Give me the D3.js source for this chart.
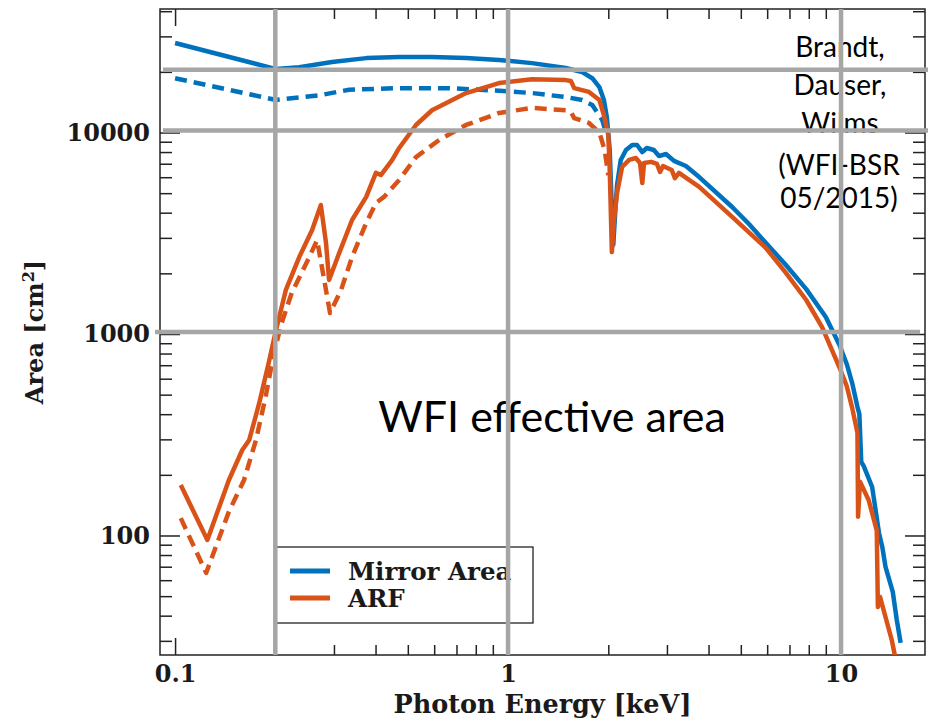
<!DOCTYPE html>
<html>
<head>
<meta charset="utf-8">
<script src="https://cdn.jsdelivr.net/npm/d3@7/dist/d3.min.js"></script>
<style>
  body { margin: 0; background: #fff; }
  svg { display: block; }
</style>
</head>
<body>
<div id="chart"></div>
<script>
// Mirror area (solid) - energy in keV, area in cm^2
const mirrorEnergy = [0.1, 0.201, 0.236, 0.296, 0.375, 0.471, 0.591, 0.748, 0.94, 1.18, 1.49, 1.67, 1.79, 1.88, 1.94, 1.98, 2.02, 2.05, 2.07, 2.10, 2.125, 2.18, 2.26, 2.36, 2.44, 2.53, 2.61, 2.74, 2.84, 2.98, 3.15, 3.42, 3.75, 4.71, 5.29, 5.95, 6.83, 7.86, 9.0, 9.9, 10.4, 10.8, 11.2, 11.35, 11.5, 11.7, 12.4, 13.0, 13.3, 13.6, 14.3, 14.7, 15.1];
const mirrorArea = [27800, 20650, 21100, 22400, 23400, 23700, 23700, 23400, 22900, 22100, 20900, 19950, 18600, 16800, 14500, 11900, 8190, 4120, 2770, 4120, 5480, 7310, 8190, 8670, 8670, 8000, 8380, 8190, 7640, 7820, 7230, 6820, 6010, 4270, 3515, 2830, 2200, 1670, 1215, 880, 710, 571, 435, 400, 232, 221, 174, 103, 87.7, 69.8, 52.5, 38.1, 29.3];

// Mirror area, second configuration (dashed)
const mirrorDashEnergy = [0.1, 0.201, 0.271, 0.333, 0.471, 0.665, 0.94, 1.18, 1.49, 1.67, 1.79, 1.92, 1.97];
const mirrorDashArea = [18600, 14500, 15300, 16300, 16600, 16600, 16100, 15700, 15000, 14500, 13700, 11500, 9890];

// ARF (solid)
const arfEnergy = [0.104, 0.125, 0.145, 0.159, 0.167, 0.179, 0.191, 0.201, 0.215, 0.236, 0.258, 0.274, 0.284, 0.29, 0.311, 0.34, 0.375, 0.401, 0.415, 0.449, 0.471, 0.529, 0.591, 0.748, 0.94, 1.18, 1.49, 1.545, 1.58, 1.75, 1.88, 1.94, 2.0, 2.02, 2.05, 2.08, 2.125, 2.2, 2.31, 2.42, 2.49, 2.53, 2.56, 2.69, 2.8, 2.86, 2.92, 3.1, 3.17, 3.26, 3.75, 4.71, 5.95, 6.83, 7.86, 8.77, 9.4, 9.9, 10.4, 10.8, 11.2, 11.25, 11.4, 12.1, 12.8, 12.9, 13.1, 13.6, 14.2, 14.7];
const arfArea = [178, 95, 188, 265, 298, 455, 718, 1047, 1650, 2410, 3280, 4370, 2830, 1855, 2520, 3680, 4790, 6300, 6150, 7310, 8380, 10900, 12900, 15700, 17600, 18400, 18200, 18000, 16600, 15900, 14500, 12200, 9720, 6520, 2550, 3680, 5010, 6740, 7310, 7470, 7060, 5610, 7060, 7150, 6980, 6370, 6820, 6520, 5940, 6300, 5370, 3810, 2670, 2010, 1475, 1083, 830, 680, 552, 430, 323, 124, 185, 150, 106, 44.2, 49.5, 39.4, 30.3, 22.8];

// ARF, second configuration (dashed)
const arfDashEnergy = [0.104, 0.124, 0.145, 0.161, 0.175, 0.187, 0.198, 0.209, 0.224, 0.248, 0.267, 0.277, 0.292, 0.315, 0.34, 0.375, 0.401, 0.424, 0.471, 0.529, 0.621, 0.748, 0.94, 1.18, 1.49, 1.545, 1.58, 1.75, 1.88, 1.95, 2.0];
const arfDashArea = [122, 65.2, 131, 188, 298, 487, 805, 1134, 1597, 2250, 2920, 2080, 1271, 1650, 2410, 3560, 4470, 4790, 5810, 7550, 9180, 10900, 12500, 13250, 12900, 12600, 11800, 11150, 10000, 8190, 6150];

const xMajorTicks = [0.1, 1, 10];
const xTickLabels = ['0.1', '1', '10'];
const xMinorTicks = [0.2, 0.3, 0.4, 0.5, 0.6, 0.7, 0.8, 0.9, 2, 3, 4, 5, 6, 7, 8, 9];
const yMajorTicks = [100, 1000, 10000];
const yTickLabels = ['100', '1000', '10000'];
const yMinorTicks = [30, 40, 50, 60, 70, 80, 90, 200, 300, 400, 500, 600, 700, 800, 900, 2000, 3000, 4000, 5000, 6000, 7000, 8000, 9000, 20000, 30000, 40000];

// Highlight lines drawn over the plot
const gridEnergies = [0.2, 1, 10];
const gridAreas = [20000, 10000, 1000];

const legendNames = ['Mirror Area', 'ARF'];
const blue = '#0072bd', orange = '#d95319';

const W = 930, H = 719;
const box = {left: 160, right: 925, top: 9, bottom: 655};
const serif = "'DejaVu Serif', serif";
const sans = "Lato, 'Open Sans', sans-serif";

const svg = d3.select('#chart').append('svg').attr('width', W).attr('height', H);

const x = d3.scaleLog().domain([0.0901, 17.87]).range([box.left, box.right]);
const y = d3.scaleLog().domain([25.52, 41020]).range([box.bottom, box.top]);

// Frame
svg.append('rect')
  .attr('x', box.left).attr('y', box.top)
  .attr('width', box.right - box.left).attr('height', box.bottom - box.top)
  .attr('fill', 'none').attr('stroke', '#222').attr('stroke-width', 1.5);

// Inward ticks on all four sides
function tickGroup(axis, tx, ty){
  const g = svg.append('g').attr('transform', `translate(${tx},${ty})`).call(axis);
  g.select('.domain').remove();
  g.selectAll('line').attr('stroke', '#222').attr('stroke-width', 1.5);
  return g;
}
tickGroup(d3.axisBottom(x).tickValues(xMinorTicks).tickSize(-10).tickFormat(''), 0, box.bottom);
tickGroup(d3.axisTop(x).tickValues(xMinorTicks).tickSize(-10).tickFormat(''), 0, box.top);
tickGroup(d3.axisTop(x).tickValues(xMajorTicks).tickSize(-17).tickFormat(''), 0, box.top);
tickGroup(d3.axisLeft(y).tickValues(yMinorTicks).tickSize(-12).tickFormat(''), box.left, 0);
tickGroup(d3.axisRight(y).tickValues(yMinorTicks).tickSize(-12).tickFormat(''), box.right, 0);
tickGroup(d3.axisRight(y).tickValues(yMajorTicks).tickSize(-20).tickFormat(''), box.right, 0);

const xAxis = tickGroup(d3.axisBottom(x).tickValues(xMajorTicks).tickSize(-17).tickPadding(10)
  .tickFormat((d, i) => xTickLabels[i]), 0, box.bottom);
const yAxis = tickGroup(d3.axisLeft(y).tickValues(yMajorTicks).tickSize(-20).tickPadding(10)
  .tickFormat((d, i) => yTickLabels[i]), box.left, 0);
[xAxis, yAxis].forEach(g => g.selectAll('text')
  .attr('fill', '#1a1a1a').style('font-family', serif).style('font-weight', 'bold').style('font-size', '24px'));

// Axis titles
svg.append('text')
  .attr('x', (box.left + box.right) / 2).attr('y', 713)
  .attr('text-anchor', 'middle')
  .style('font-family', serif).style('font-weight', 'bold').style('font-size', '25.5px').attr('fill', '#1a1a1a')
  .text('Photon Energy [keV]');

const yTitle = svg.append('text')
  .attr('transform', `translate(43,${(box.top + box.bottom) / 2}) rotate(-90)`)
  .attr('text-anchor', 'middle')
  .style('font-family', serif).style('font-weight', 'bold').style('font-size', '24px').attr('fill', '#1a1a1a');
yTitle.append('tspan').text('Area [cm');
yTitle.append('tspan').attr('dy', -9).style('font-size', '16px').text('2');
yTitle.append('tspan').attr('dy', 9).text(']');

// Curves
svg.append('clipPath').attr('id', 'plot-clip').append('rect')
  .attr('x', box.left).attr('y', box.top)
  .attr('width', box.right - box.left).attr('height', box.bottom - box.top);

const line = d3.line().x(d => x(d[0])).y(d => y(d[1]));
const series = [
  {e: mirrorDashEnergy, a: mirrorDashArea, color: blue, dash: '12,7'},
  {e: arfDashEnergy, a: arfDashArea, color: orange, dash: '12,7'},
  {e: mirrorEnergy, a: mirrorArea, color: blue, dash: null},
  {e: arfEnergy, a: arfArea, color: orange, dash: null}
];
const curves = svg.append('g').attr('clip-path', 'url(#plot-clip)');
series.forEach(s => {
  curves.append('path')
    .datum(d3.zip(s.e, s.a))
    .attr('d', line)
    .attr('fill', 'none')
    .attr('stroke', s.color)
    .attr('stroke-width', 4.5)
    .attr('stroke-linejoin', 'round')
    .attr('stroke-dasharray', s.dash);
});

// Legend
const legend = svg.append('g');
legend.append('rect')
  .attr('x', 275.5).attr('y', 547).attr('width', 257.5).attr('height', 76)
  .attr('fill', '#fff').attr('stroke', '#222').attr('stroke-width', 1.3);
legendNames.forEach((name, i) => {
  const ly = 571 + i * 27;
  legend.append('line')
    .attr('x1', 290).attr('x2', 330).attr('y1', ly).attr('y2', ly)
    .attr('stroke', i === 0 ? blue : orange).attr('stroke-width', 5);
  legend.append('text')
    .attr('x', 348).attr('y', ly + 9)
    .style('font-family', serif).style('font-weight', 'bold').style('font-size', '24.5px').attr('fill', '#1a1a1a')
    .text(name);
});

// Annotations
svg.append('text')
  .attr('x', 552).attr('y', 432).attr('text-anchor', 'middle')
  .style('font-family', sans).style('font-size', '43px').attr('fill', '#000')
  .text('WFI effective area');

const credit1 = ['Brandt,', 'Dauser,', 'Wilms'];
credit1.forEach((t, i) => {
  svg.append('text')
    .attr('x', 840).attr('y', 57 + i * 38).attr('text-anchor', 'middle')
    .style('font-family', sans).style('font-size', '28px').attr('fill', '#000')
    .text(t);
});
// second text box sits on top and hides the bottom of "Wilms"
svg.append('rect').attr('x', 772).attr('y', 134).attr('width', 134).attr('height', 82).attr('fill', '#fff');
const credit2 = ['(WFI-BSR', '05/2015)'];
credit2.forEach((t, i) => {
  svg.append('text')
    .attr('x', 839).attr('y', 175 + i * 33).attr('text-anchor', 'middle')
    .style('font-family', sans).style('font-size', '28px').attr('fill', '#000')
    .text(t);
});

// Grey highlight lines on top of everything
const grid = svg.append('g').attr('stroke', '#a6a6a6').attr('stroke-width', 4.5);
grid.selectAll('line.v').data(gridEnergies).join('line')
  .attr('class', 'v')
  .attr('x1', d => x(d)).attr('x2', d => x(d))
  .attr('y1', box.top).attr('y2', box.bottom);
grid.selectAll('line.h').data(gridAreas).join('line')
  .attr('class', 'h')
  .attr('x1', d => d === 1000 ? 155 : 163).attr('x2', d => d === 1000 ? 920 : 928)
  .attr('y1', d => y(d) - 2).attr('y2', d => y(d) - 2);
</script>
</body>
</html>
